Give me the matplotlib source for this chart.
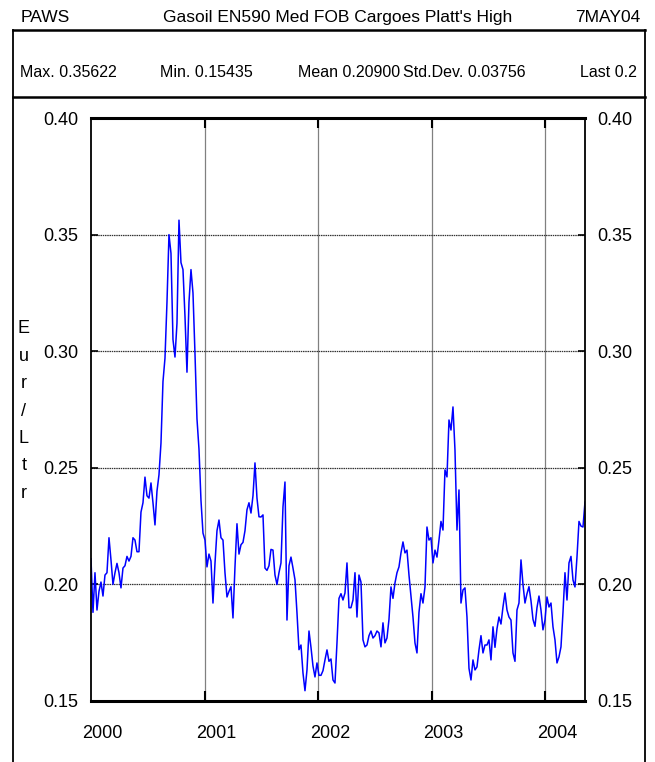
import numpy as np
import pandas as pd
import matplotlib

matplotlib.use("Agg")
import matplotlib.pyplot as plt
import matplotlib.dates as mdates
from matplotlib.lines import Line2D

plt.rcParams["font.family"] = ["Liberation Sans Narrow", "Liberation Sans", "DejaVu Sans"]

# Gasoil EN590 Med FOB Cargoes, Platt's High (Eur/Ltr), sampled evenly Jan 2000 .. 7 May 2004
price = [
    0.211, 0.188, 0.205, 0.189, 0.197, 0.201, 0.195, 0.204, 0.205, 0.220,
    0.2105, 0.200, 0.205, 0.209, 0.205, 0.1985, 0.207, 0.208, 0.212, 0.210,
    0.212, 0.220, 0.219, 0.214, 0.214, 0.231, 0.235, 0.246, 0.238, 0.237,
    0.2435, 0.235, 0.2255, 0.240, 0.247, 0.2606, 0.287, 0.297, 0.321, 0.350,
    0.342, 0.305, 0.2975, 0.312, 0.3562, 0.338, 0.335, 0.315, 0.291, 0.321,
    0.335, 0.325, 0.299, 0.271, 0.258, 0.236, 0.222, 0.219, 0.2075, 0.213,
    0.210, 0.192, 0.209, 0.223, 0.2276, 0.220, 0.219, 0.205, 0.1946, 0.197,
    0.199, 0.1856, 0.2075, 0.226, 0.213, 0.217, 0.218, 0.223, 0.232, 0.235,
    0.2306, 0.238, 0.2521, 0.237, 0.229, 0.2289, 0.2298, 0.207, 0.206, 0.208,
    0.215, 0.2147, 0.204, 0.200, 0.205, 0.2092, 0.2332, 0.2439, 0.1847, 0.208,
    0.2117, 0.207, 0.202, 0.1878, 0.172, 0.174, 0.162, 0.1544, 0.1633, 0.180,
    0.173, 0.165, 0.1603, 0.1663, 0.161, 0.161, 0.163, 0.1676, 0.1719, 0.167,
    0.168, 0.159, 0.1577, 0.1749, 0.194, 0.196, 0.1933, 0.1963, 0.2092, 0.190,
    0.190, 0.1933, 0.205, 0.186, 0.204, 0.201, 0.1762, 0.1732, 0.174, 0.178,
    0.180, 0.177, 0.178, 0.180, 0.1792, 0.1732, 0.1835, 0.1749, 0.177, 0.185,
    0.1989, 0.194, 0.2006, 0.205, 0.2075, 0.2135, 0.2182, 0.2135, 0.2147, 0.204,
    0.195, 0.186, 0.1749, 0.1706, 0.188, 0.196, 0.192, 0.1989, 0.2246, 0.219,
    0.220, 0.2092, 0.2147, 0.2117, 0.219, 0.227, 0.2233, 0.2491, 0.2461, 0.2705,
    0.2662, 0.2761, 0.2576, 0.2233, 0.2405, 0.192, 0.1976, 0.1985, 0.186, 0.164,
    0.159, 0.1676, 0.1633, 0.1646, 0.1719, 0.178, 0.1706, 0.174, 0.174, 0.1762,
    0.1676, 0.1818, 0.173, 0.181, 0.186, 0.183, 0.1903, 0.1963, 0.189, 0.186,
    0.1847, 0.1706, 0.167, 0.189, 0.192, 0.2105, 0.200, 0.192, 0.196, 0.199,
    0.193, 0.185, 0.182, 0.190, 0.195, 0.189, 0.1805, 0.1847, 0.1946, 0.1903,
    0.192, 0.1818, 0.1762, 0.1663, 0.1689, 0.1732, 0.188, 0.205, 0.1933, 0.2092,
    0.212, 0.2019, 0.1989, 0.2117, 0.227, 0.225, 0.2246, 0.2353,
]
start_date = "2000-01-01"
end_date = "2004-05-07"
years = [2000, 2001, 2002, 2003, 2004]
y_ticks = [0.15, 0.20, 0.25, 0.30, 0.35, 0.40]

header_left = "PAWS"
header_title = "Gasoil EN590 Med FOB Cargoes Platt's High"
header_right = "7MAY04"
stats = [("Max. 0.35622", 0.031), ("Min. 0.15435", 0.244), ("Mean 0.20900", 0.455),
         ("Std.Dev. 0.03756", 0.616), ("Last 0.2", 0.885)]
ylabel_chars = ["E", "u", "r", "/", "L", "t", "r"]

dates = pd.date_range(start_date, end_date, periods=len(price))

fig = plt.figure(figsize=(6.55, 7.62), dpi=100)
ax = fig.add_axes([0.1389, 0.0801, 0.7542, 0.765])

ax.plot(dates, price, color="#0000ff", lw=1.1)

ax.set_xlim(pd.Timestamp(start_date), pd.Timestamp(end_date))
ax.set_ylim(0.15, 0.40)

# year gridlines / ticks
year_starts = [pd.Timestamp(f"{y}-01-01") for y in years]
ax.set_xticks(year_starts[1:])
ax.set_xticklabels([])
ax.set_xticks([pd.Timestamp(f"{y}-02-08") for y in years], minor=True)
ax.set_xticklabels([str(y) for y in years], minor=True)
ax.tick_params(axis="x", which="major", direction="in", length=7, width=1.5,
               top=True, bottom=True, color="black")
ax.tick_params(axis="x", which="minor", length=0, pad=17, labelsize=13)
ax.grid(axis="x", which="major", color="#808080", lw=0.9)

ax.set_yticks(y_ticks)
ax.set_yticklabels([f"{v:.2f}" for v in y_ticks])
ax.tick_params(axis="y", direction="in", length=5, width=1.2, left=True, right=True,
               labelleft=True, labelright=True, labelsize=13, pad=9)
ax.grid(axis="y", color="#333333", lw=0.9, linestyle=(0, (1.2, 0.6)))

for side in ["top", "bottom"]:
    ax.spines[side].set_linewidth(2.2)
for side in ["left", "right"]:
    ax.spines[side].set_linewidth(1.3)

# frame around header and stats
frame_kw = dict(color="black", lw=1.3, transform=fig.transFigure)
fig.add_artist(Line2D([0.0198, 0.0198], [0.9606, 0.0], **frame_kw))
fig.add_artist(Line2D([0.9847, 0.9847], [0.9606, 0.0], **frame_kw))
fig.add_artist(Line2D([0.0198, 0.9847], [0.9606, 0.9606], color="black", lw=1.8,
                      transform=fig.transFigure))
fig.add_artist(Line2D([0.0198, 0.9847], [0.8727, 0.8727], color="black", lw=1.8,
                      transform=fig.transFigure))

fig.text(0.031, 0.9764, header_left, fontsize=12.5, va="center", ha="left")
fig.text(0.515, 0.9764, header_title, fontsize=12.5, va="center", ha="center")
fig.text(0.977, 0.9764, header_right, fontsize=12.5, va="center", ha="right")
for label, xpos in stats:
    fig.text(xpos, 0.9042, label, fontsize=11.5, va="center", ha="left")

fig.text(0.0366, 0.4606, "\n".join(ylabel_chars), fontsize=13, va="center",
         ha="center", linespacing=1.8)

fig.savefig("out.png", dpi=100)
